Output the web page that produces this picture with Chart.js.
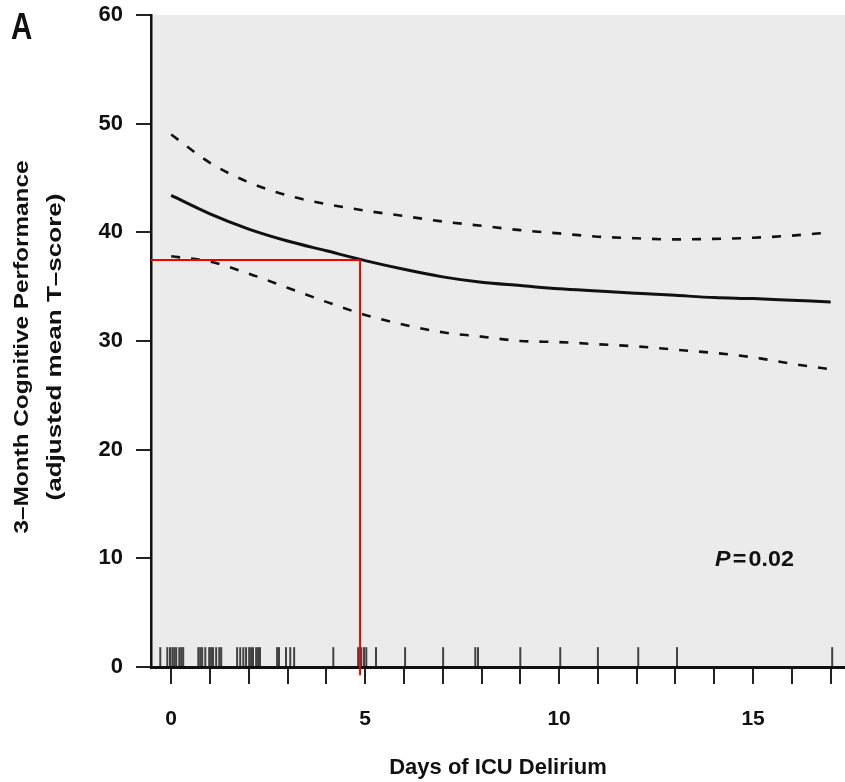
<!DOCTYPE html>
<html><head><meta charset="utf-8">
<script src="https://cdn.jsdelivr.net/npm/chart.js@4.4.0/dist/chart.umd.min.js"></script>
<style>html,body{margin:0;padding:0;background:#fff;}#wrap{width:845px;height:782px;position:relative;}</style>
</head><body><div id="wrap"><canvas id="c" width="845" height="782"></canvas></div>
<script>
// ---- data ----
const days = [0,1,2,3,4,5,6,7,8,9,10,11,12,13,14,15,16,17];
const meanScore = [43.4,41.7,40.3,39.2,38.3,37.4,36.6,35.9,35.4,35.1,34.8,34.6,34.4,34.2,34.0,33.9,33.75,33.6];
const upperCI   = [49.0,46.4,44.6,43.4,42.6,42.0,41.5,41.0,40.6,40.2,39.9,39.6,39.45,39.35,39.4,39.5,39.7,40.0];
const lowerCI   = [37.8,37.3,36.2,34.9,33.6,32.4,31.5,30.8,30.4,30.0,29.9,29.7,29.5,29.2,28.9,28.5,27.9,27.4];
const rugDays = [-0.28,-0.10,-0.03,0.03,0.08,0.13,0.21,0.26,0.31,
  0.70,0.75,0.80,0.88,0.98,1.03,1.08,1.16,1.24,1.29,
  1.70,1.78,1.86,1.93,2.01,2.06,2.11,2.19,2.24,2.29,
  2.73,2.78,2.96,3.07,3.17,4.18,4.82,4.90,4.97,5.03,5.28,6.03,
  7.01,7.84,7.91,9.00,10.03,11.00,12.04,13.04,17.04];
const rugLevel = 0.95;
const refDays = 4.87;
const refScore = 37.45;
const xRange = [-0.52, 17.37];
const yRange = [0, 60];
const xTickValues = [0,1,2,3,4,5,6,7,8,9,10,11,12,13,14,15,16,17];
const xLabelValues = [0,5,10,15];
const yTickValues = [0,10,20,30,40,50,60];
const panelLabel = 'A';
const pValueParts = ['P', '=', '0.02'];
const xTitle = 'Days of ICU Delirium';
const yTitleLines = ['3\u2013Month Cognitive Performance','(adjusted mean T\u2013score)'];

const FONT = '"Liberation Sans", Arial, Helvetica, sans-serif';
const pts = (xs, ys) => xs.map((x,i)=>({x, y: ys[i]}));

const bgPlugin = {
  id:'bg',
  beforeDraw(chart){
    const {ctx, chartArea:a} = chart;
    ctx.save(); ctx.fillStyle='#ebebeb';
    ctx.fillRect(a.left, a.top, a.right-a.left, a.bottom-a.top);
    ctx.restore();
  }
};
const textPlugin = {
  id:'texts',
  afterDraw(chart){
    const {ctx} = chart;
    const xs = chart.scales.x, ys = chart.scales.y;
    ctx.save();
    ctx.fillStyle='#111';
    // panel label
    ctx.save();
    ctx.font = 'bold 36px ' + FONT;
    ctx.textAlign='left'; ctx.textBaseline='alphabetic';
    ctx.translate(11, 39); ctx.scale(0.82, 1.0);
    ctx.fillText(panelLabel, 0, 0);
    ctx.restore();
    // P value
    const px = xs.getPixelForValue(14.02), py = ys.getPixelForValue(9.3);
    ctx.save();
    ctx.translate(px, py); ctx.scale(1.06, 1);
    ctx.textAlign='left'; ctx.textBaseline='alphabetic';
    ctx.font = 'italic bold 22px ' + FONT;
    ctx.fillText(pValueParts[0], 0, 0);
    let cx = ctx.measureText(pValueParts[0]).width + 2;
    ctx.font = 'bold 22px ' + FONT;
    ctx.fillText(pValueParts[1], cx, 0);
    cx += ctx.measureText(pValueParts[1]).width + 2;
    ctx.fillText(pValueParts[2], cx, 0);
    ctx.restore();
    // y-axis title (two rotated lines)
    const centers = [22.5, 55];
    const widths = [373, 307];
    yTitleLines.forEach((t,i)=>{
      ctx.save();
      ctx.translate(centers[i], 347);
      ctx.rotate(-Math.PI/2);
      ctx.font = 'bold 21px ' + FONT;
      const w = ctx.measureText(t).width;
      ctx.scale(widths[i]/w, 1);
      ctx.textAlign='center'; ctx.textBaseline='middle';
      ctx.fillText(t, 0, 0);
      ctx.restore();
    });
    ctx.restore();
  }
};

new Chart(document.getElementById('c'), {
  type:'line',
  data:{
    datasets:[
      { label:'reference', data:[{x:xRange[0], y:refScore},{x:refDays, y:refScore},{x:refDays, y:-0.75}],
        borderColor:'#ee0000', borderWidth:2, pointRadius:0, tension:0, clip:false, order:0 },
      { label:'mean', data:pts(days, meanScore), borderColor:'#111', borderWidth:3, pointRadius:0,
        cubicInterpolationMode:'monotone', order:1 },
      { label:'upper', data:pts(days, upperCI), borderColor:'#111', borderWidth:2.6, borderDash:[9,11], pointRadius:0,
        cubicInterpolationMode:'monotone', order:2 },
      { label:'lower', data:pts(days, lowerCI), borderColor:'#111', borderWidth:2.6, borderDash:[9,11], pointRadius:0,
        cubicInterpolationMode:'monotone', order:3 },
      { type:'scatter', label:'rug', data:rugDays.map(d=>({x:d, y:rugLevel})), pointStyle:'line', rotation:90,
        radius:9.5, borderColor:'rgba(10,10,10,0.75)', borderWidth:2, backgroundColor:'rgba(0,0,0,0)', clip:false, order:4 }
    ]
  },
  options:{
    responsive:false, animation:false, devicePixelRatio:1,
    layout:{autoPadding:false, padding:{top:15, right:0, left:0, bottom:0}},
    plugins:{legend:{display:false}, tooltip:{enabled:false}},
    scales:{
      x:{ type:'linear', min:xRange[0], max:xRange[1],
        afterBuildTicks: s => { s.ticks = xTickValues.map(v=>({value:v})); },
        afterFit: s => { s.height = 115; s.paddingRight = 0; s.paddingLeft = 0; },
        ticks:{ autoSkip:false, maxRotation:0, padding:23, color:'#111',
          font:{family:FONT, size:21, weight:'bold'},
          callback: v => xLabelValues.includes(v) ? String(v) : '' },
        grid:{ drawOnChartArea:false, drawTicks:true, tickLength:17, color:'#222', lineWidth:2 },
        border:{ display:true, color:'#111', width:3 },
        title:{ display:true, text:xTitle, color:'#111', font:{family:FONT, size:22, weight:'bold'}, padding:{top:0,bottom:1} }
      },
      y:{ type:'linear', min:yRange[0], max:yRange[1],
        afterBuildTicks: s => { s.ticks = yTickValues.map(v=>({value:v})); },
        afterFit: s => { s.width = 151; s.paddingTop = 0; s.paddingBottom = 0; },
        ticks:{ padding:13, color:'#111', font:{family:FONT, size:22, weight:'bold'} },
        grid:{ drawOnChartArea:false, drawTicks:true, tickLength:15, color:'#222', lineWidth:2 },
        border:{ display:true, color:'#111', width:2.5 }
      }
    }
  },
  plugins:[bgPlugin, textPlugin]
});
</script></body></html>
